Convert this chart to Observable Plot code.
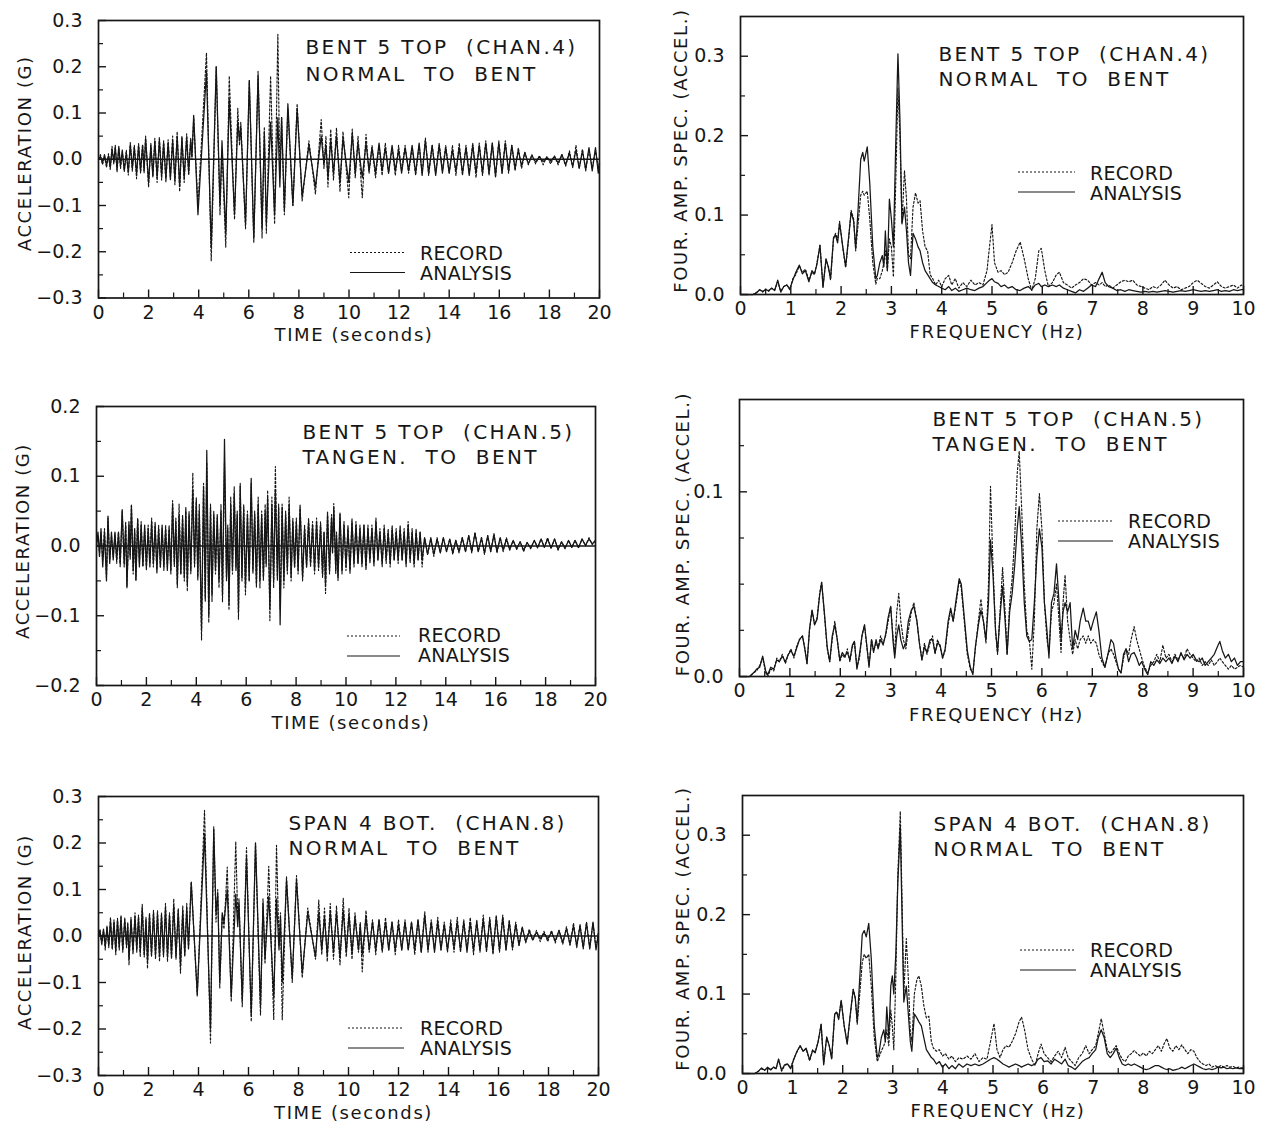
<!DOCTYPE html>
<html><head><meta charset="utf-8">
<script src="https://cdn.jsdelivr.net/npm/d3@7"></script>
<script src="https://cdn.jsdelivr.net/npm/@observablehq/plot@0.6"></script>
<style>
html,body{margin:0;padding:0;background:#fff;}
#page{position:relative;width:1265px;height:1123px;background:#fff;overflow:hidden;}
#page svg{position:absolute;overflow:visible;}
#page svg text{white-space:pre;}
#page g[aria-label="text"] text{letter-spacing:1.6px;}
#page g[aria-label="text"][font-size="20"] text{letter-spacing:2.4px;}
</style></head><body><div id="page"></div>
<script>
// ---------- DATA ----------
// time histories: [time (s), RECORD (g), ANALYSIS (g)] at local extrema
const chan4 = [
[0.00,0.000,0.000],[0.08,0.010,0.006],[0.16,-0.012,-0.008],[0.24,0.006,0.010],[0.32,-0.018,-0.012],[0.40,0.012,0.008],[0.47,-0.022,-0.018],[0.54,0.028,0.022],[0.61,-0.010,-0.006],[0.67,0.030,0.026],[0.74,-0.028,-0.022],[0.81,0.024,0.028],[0.88,-0.020,-0.014],[0.95,0.016,0.020],[1.03,-0.024,-0.026],[1.11,0.020,0.014],[1.19,-0.034,-0.028],[1.27,0.036,0.032],[1.35,-0.026,-0.020],[1.43,0.030,0.026],[1.52,-0.042,-0.032],[1.60,0.034,0.030],[1.68,-0.030,-0.026],[1.76,0.032,0.030],[1.82,-0.030,-0.024],[1.88,0.050,0.045],[2.00,-0.060,-0.050],[2.09,0.035,0.030],[2.17,-0.035,-0.038],[2.25,0.045,0.040],[2.34,-0.050,-0.040],[2.43,0.048,0.042],[2.52,-0.045,-0.036],[2.60,0.040,0.036],[2.69,-0.050,-0.042],[2.78,0.042,0.036],[2.87,-0.040,-0.044],[2.96,0.050,0.040],[3.05,-0.055,-0.046],[3.14,0.060,0.050],[3.24,-0.070,-0.058],[3.33,0.050,0.046],[3.42,-0.050,-0.040],[3.52,0.055,0.048],[3.60,-0.035,-0.030],[3.68,0.045,0.042],[3.73,0.000,0.005],[3.80,0.090,0.095],[3.97,-0.100,-0.120],[4.31,0.230,0.190],[4.50,-0.220,-0.190],[4.70,0.200,0.200],[4.85,-0.120,-0.100],[4.93,0.020,0.040],[5.08,-0.190,-0.160],[5.22,0.180,0.130],[5.43,-0.130,-0.120],[5.56,0.110,0.080],[5.63,0.030,0.040],[5.68,0.080,0.070],[5.87,-0.150,-0.140],[6.02,0.170,0.170],[6.20,-0.180,-0.170],[6.37,0.190,0.180],[6.53,-0.170,-0.150],[6.62,0.070,0.060],[6.70,-0.160,-0.140],[6.87,0.180,0.080],[7.03,-0.140,-0.120],[7.16,0.270,0.090],[7.24,-0.040,-0.060],[7.31,0.090,0.090],[7.42,-0.120,-0.110],[7.56,0.110,0.120],[7.76,-0.100,-0.100],[7.93,0.120,0.110],[8.13,-0.090,-0.080],[8.40,0.040,0.030],[8.66,-0.075,-0.060],[8.89,0.086,0.050],[9.00,-0.020,-0.010],[9.08,0.050,0.030],[9.16,-0.060,-0.040],[9.27,0.065,0.040],[9.38,-0.045,-0.030],[9.50,0.068,0.050],[9.64,-0.070,-0.050],[9.76,0.060,0.045],[9.99,-0.083,-0.050],[10.13,0.065,0.055],[10.25,-0.040,-0.030],[10.36,0.050,0.035],[10.53,-0.083,-0.040],[10.68,0.054,0.035],[10.80,-0.030,-0.025],[10.92,0.030,0.025],[11.06,-0.040,-0.030],[11.20,0.030,0.035],[11.32,-0.035,-0.025],[11.45,0.035,0.025],[11.58,-0.030,-0.030],[11.72,0.025,0.030],[11.85,-0.035,-0.025],[11.98,0.030,0.020],[12.10,-0.025,-0.030],[12.24,0.030,0.025],[12.38,-0.030,-0.025],[12.52,0.025,0.030],[12.66,-0.035,-0.030],[12.80,0.030,0.035],[12.92,-0.030,-0.035],[13.05,0.046,0.040],[13.18,-0.035,-0.030],[13.32,0.030,0.030],[13.46,-0.030,-0.035],[13.60,0.035,0.030],[13.73,-0.025,-0.030],[13.86,0.030,0.025],[14.00,-0.030,-0.030],[14.13,0.030,0.020],[14.27,-0.035,-0.025],[14.40,0.035,0.025],[14.53,-0.035,-0.030],[14.67,0.030,0.025],[14.80,-0.030,-0.035],[14.94,0.035,0.030],[15.07,-0.040,-0.030],[15.20,0.035,0.030],[15.33,-0.035,-0.030],[15.46,0.040,0.035],[15.59,-0.035,-0.030],[15.72,0.035,0.035],[15.85,-0.040,-0.035],[15.98,0.040,0.035],[16.11,-0.030,-0.030],[16.24,0.040,0.035],[16.37,-0.030,-0.025],[16.50,0.030,0.030],[16.63,-0.025,-0.020],[16.76,0.025,0.020],[16.89,-0.020,-0.015],[17.02,0.015,0.015],[17.16,-0.012,-0.010],[17.30,0.010,0.008],[17.45,-0.010,-0.006],[17.60,0.008,0.005],[17.75,-0.012,-0.005],[17.90,0.006,0.004],[18.05,-0.010,-0.004],[18.20,0.008,0.005],[18.35,-0.012,-0.008],[18.50,0.010,0.010],[18.65,-0.015,-0.012],[18.80,0.018,0.014],[18.93,-0.018,-0.016],[19.06,0.030,0.020],[19.19,-0.020,-0.020],[19.32,0.022,0.018],[19.45,-0.025,-0.022],[19.58,0.022,0.025],[19.71,-0.020,-0.025],[19.84,0.020,0.025],[19.95,-0.020,-0.030],[20.00,-0.005,-0.010]
];
const chan5 = [
[0.00,0.000,0.000],[0.06,0.015,0.020],[0.12,-0.010,-0.015],[0.18,0.020,0.025],[0.25,-0.020,-0.030],[0.32,0.025,0.020],[0.40,-0.045,-0.050],[0.46,0.040,0.043],[0.53,-0.020,-0.025],[0.60,0.015,0.020],[0.67,-0.015,-0.020],[0.74,0.020,0.018],[0.81,-0.025,-0.020],[0.88,0.020,0.020],[0.95,-0.030,-0.025],[1.03,0.050,0.052],[1.11,-0.030,-0.025],[1.17,0.035,0.030],[1.22,-0.060,-0.058],[1.30,0.030,0.035],[1.35,-0.020,-0.015],[1.40,0.060,0.058],[1.47,-0.040,-0.035],[1.53,0.020,0.025],[1.58,-0.050,-0.048],[1.65,0.040,0.038],[1.72,-0.025,-0.030],[1.79,0.035,0.030],[1.86,-0.030,-0.028],[1.93,0.025,0.030],[2.00,-0.035,-0.030],[2.07,0.030,0.025],[2.14,-0.025,-0.030],[2.21,0.040,0.035],[2.28,-0.030,-0.025],[2.35,0.035,0.030],[2.42,-0.040,-0.035],[2.49,0.030,0.025],[2.56,-0.030,-0.030],[2.63,0.025,0.030],[2.70,-0.035,-0.030],[2.77,0.030,0.025],[2.84,-0.030,-0.035],[2.91,0.030,0.025],[2.98,-0.040,-0.035],[3.05,0.065,0.060],[3.12,-0.030,-0.025],[3.18,0.040,0.035],[3.24,-0.060,-0.055],[3.31,0.060,0.045],[3.38,-0.040,-0.040],[3.45,0.045,0.040],[3.52,-0.050,-0.045],[3.58,0.050,0.055],[3.64,-0.065,-0.055],[3.71,0.050,0.045],[3.78,-0.040,-0.035],[3.86,0.105,0.080],[3.93,-0.030,-0.025],[4.00,0.070,0.065],[4.06,-0.050,-0.045],[4.12,0.060,0.050],[4.21,-0.135,-0.120],[4.29,0.090,0.085],[4.36,-0.080,-0.075],[4.42,0.120,0.137],[4.50,-0.110,-0.100],[4.57,0.060,0.055],[4.63,-0.080,-0.070],[4.70,0.050,0.045],[4.77,-0.040,-0.035],[4.84,0.040,0.045],[4.91,-0.060,-0.050],[4.99,0.060,0.050],[5.05,-0.080,-0.070],[5.13,0.120,0.153],[5.21,-0.050,-0.045],[5.26,0.030,0.025],[5.31,-0.092,-0.085],[5.38,0.070,0.060],[5.45,-0.040,-0.035],[5.52,0.085,0.075],[5.59,-0.030,-0.035],[5.64,0.050,0.045],[5.69,-0.105,-0.095],[5.76,0.090,0.086],[5.83,-0.050,-0.045],[5.90,0.060,0.055],[5.97,-0.070,-0.060],[6.05,0.050,0.045],[6.12,-0.050,-0.050],[6.20,0.090,0.097],[6.27,-0.040,-0.035],[6.34,0.050,0.045],[6.41,-0.060,-0.055],[6.48,0.070,0.060],[6.55,-0.060,-0.050],[6.62,0.050,0.045],[6.69,-0.050,-0.045],[6.76,0.060,0.050],[6.80,-0.030,-0.025],[6.86,0.080,0.070],[6.95,-0.107,-0.090],[7.03,0.070,0.060],[7.10,-0.060,-0.050],[7.17,0.114,0.080],[7.25,-0.050,-0.045],[7.30,0.060,0.055],[7.36,-0.090,-0.113],[7.44,0.060,0.055],[7.51,-0.060,-0.050],[7.58,0.050,0.045],[7.65,-0.040,-0.035],[7.72,0.070,0.060],[7.80,-0.050,-0.045],[7.87,0.040,0.035],[7.94,-0.030,-0.030],[8.01,0.040,0.035],[8.08,-0.040,-0.035],[8.16,0.060,0.055],[8.26,-0.050,-0.045],[8.34,0.030,0.025],[8.42,-0.030,-0.030],[8.50,0.040,0.035],[8.58,-0.030,-0.025],[8.66,0.035,0.030],[8.74,-0.040,-0.035],[8.82,0.040,0.035],[8.90,-0.035,-0.030],[8.98,0.035,0.030],[9.06,-0.045,-0.040],[9.12,0.020,0.020],[9.18,-0.068,-0.055],[9.26,0.050,0.045],[9.34,-0.040,-0.035],[9.42,0.045,0.040],[9.46,-0.010,-0.010],[9.51,0.061,0.055],[9.59,-0.040,-0.035],[9.62,0.020,0.015],[9.68,-0.050,-0.045],[9.76,0.045,0.047],[9.84,-0.040,-0.035],[9.92,0.035,0.030],[10.00,-0.035,-0.030],[10.08,0.030,0.025],[10.16,-0.040,-0.035],[10.24,0.040,0.035],[10.32,-0.030,-0.025],[10.40,0.035,0.030],[10.48,-0.025,-0.025],[10.56,0.030,0.025],[10.64,-0.030,-0.025],[10.72,0.030,0.030],[10.80,-0.035,-0.030],[10.88,0.030,0.025],[10.96,-0.025,-0.020],[11.04,0.030,0.025],[11.12,-0.030,-0.025],[11.20,0.040,0.035],[11.28,-0.020,-0.020],[11.36,0.025,0.020],[11.45,-0.030,-0.025],[11.53,0.030,0.025],[11.61,-0.025,-0.020],[11.69,0.025,0.020],[11.77,-0.030,-0.025],[11.85,0.030,0.025],[11.93,-0.020,-0.020],[12.01,0.025,0.020],[12.09,-0.025,-0.020],[12.17,0.030,0.025],[12.25,-0.020,-0.020],[12.33,0.025,0.020],[12.41,-0.030,-0.025],[12.49,0.035,0.030],[12.57,-0.025,-0.020],[12.65,0.025,0.020],[12.73,-0.030,-0.025],[12.81,0.025,0.020],[12.89,-0.020,-0.020],[12.97,0.020,0.020],[13.05,-0.030,-0.020],[13.15,0.012,0.012],[13.27,-0.012,-0.012],[13.40,0.010,0.012],[13.52,-0.015,-0.012],[13.65,0.012,0.010],[13.78,-0.010,-0.010],[13.90,0.012,0.012],[14.03,-0.008,-0.008],[14.16,0.010,0.010],[14.28,-0.012,-0.010],[14.40,0.008,0.008],[14.53,-0.010,-0.008],[14.66,0.012,0.012],[14.79,-0.008,-0.008],[14.92,0.015,0.015],[15.04,-0.010,-0.008],[15.17,0.020,0.018],[15.30,-0.008,-0.008],[15.43,0.012,0.012],[15.55,-0.012,-0.010],[15.68,0.015,0.015],[15.80,-0.008,-0.008],[15.93,0.018,0.016],[16.05,-0.010,-0.008],[16.18,0.012,0.012],[16.30,-0.008,-0.006],[16.43,0.012,0.010],[16.56,-0.006,-0.005],[16.70,0.008,0.008],[16.84,-0.005,-0.004],[16.98,0.006,0.006],[17.12,-0.008,-0.006],[17.26,0.005,0.005],[17.40,-0.004,-0.003],[17.55,0.008,0.008],[17.68,-0.003,-0.002],[17.82,0.010,0.010],[17.95,-0.002,-0.002],[18.08,0.012,0.010],[18.22,-0.004,-0.003],[18.36,0.010,0.010],[18.50,-0.006,-0.005],[18.64,0.006,0.006],[18.78,-0.004,-0.003],[18.92,0.008,0.008],[19.05,-0.002,-0.002],[19.18,0.008,0.008],[19.32,-0.003,-0.002],[19.46,0.010,0.010],[19.60,0.000,0.001],[19.74,0.012,0.010],[19.87,0.002,0.003],[20.00,0.008,0.008]
];
const chan8 = [
[0.00,0.000,0.000],[0.06,0.015,0.010],[0.13,-0.020,-0.015],[0.20,0.012,0.015],[0.27,-0.030,-0.022],[0.34,0.022,0.018],[0.41,-0.025,-0.020],[0.48,0.040,0.032],[0.55,-0.030,-0.025],[0.62,0.035,0.030],[0.69,-0.040,-0.032],[0.76,0.038,0.034],[0.83,-0.030,-0.024],[0.90,0.045,0.040],[0.97,-0.035,-0.030],[1.05,0.040,0.035],[1.12,-0.025,-0.020],[1.17,0.030,0.025],[1.22,-0.062,-0.050],[1.30,0.040,0.035],[1.38,-0.040,-0.032],[1.46,0.050,0.042],[1.53,-0.035,-0.030],[1.60,0.045,0.040],[1.67,-0.045,-0.036],[1.75,0.068,0.060],[1.83,-0.045,-0.040],[1.90,0.040,0.035],[1.96,-0.070,-0.055],[2.04,0.050,0.045],[2.12,-0.045,-0.040],[2.20,0.055,0.050],[2.28,-0.050,-0.042],[2.36,0.055,0.048],[2.44,-0.055,-0.045],[2.52,0.050,0.045],[2.60,-0.045,-0.040],[2.68,0.070,0.060],[2.76,-0.055,-0.045],[2.84,0.050,0.045],[2.92,-0.050,-0.045],[3.01,0.080,0.065],[3.10,-0.050,-0.045],[3.19,0.060,0.055],[3.28,-0.080,-0.065],[3.37,0.065,0.055],[3.45,-0.045,-0.040],[3.53,0.070,0.060],[3.60,-0.030,-0.025],[3.71,0.117,0.115],[3.95,-0.130,-0.125],[4.24,0.270,0.220],[4.48,-0.230,-0.200],[4.61,0.235,0.230],[4.70,0.030,0.050],[4.77,0.100,0.090],[4.85,-0.112,-0.100],[4.95,0.045,0.050],[5.02,0.015,0.030],[5.15,0.148,0.100],[5.31,-0.141,-0.130],[5.49,0.203,0.090],[5.57,0.040,0.020],[5.62,0.080,0.070],[5.75,-0.152,-0.140],[5.92,0.190,0.170],[6.11,-0.184,-0.170],[6.28,0.200,0.200],[6.48,-0.170,-0.150],[6.58,0.080,0.070],[6.66,-0.060,-0.050],[6.81,0.150,0.085],[7.01,-0.180,-0.130],[7.12,0.195,0.080],[7.22,-0.020,-0.030],[7.28,0.050,0.040],[7.35,-0.180,-0.100],[7.52,0.128,0.120],[7.75,-0.100,-0.090],[7.92,0.130,0.120],[8.15,-0.090,-0.080],[8.37,0.060,0.050],[8.68,-0.050,-0.045],[8.81,0.077,0.050],[8.93,-0.040,-0.030],[9.04,0.060,0.040],[9.15,-0.055,-0.040],[9.27,0.070,0.050],[9.40,-0.050,-0.035],[9.52,0.065,0.050],[9.66,-0.062,-0.045],[9.79,0.081,0.055],[9.91,-0.045,-0.035],[10.02,0.060,0.045],[10.14,-0.050,-0.035],[10.26,0.050,0.040],[10.40,-0.035,-0.030],[10.47,0.030,0.025],[10.55,-0.077,-0.040],[10.70,0.055,0.040],[10.83,-0.035,-0.030],[10.96,0.035,0.030],[11.09,-0.040,-0.030],[11.22,0.035,0.035],[11.35,-0.035,-0.030],[11.48,0.040,0.030],[11.61,-0.030,-0.030],[11.74,0.030,0.030],[11.87,-0.040,-0.030],[12.00,0.035,0.025],[12.13,-0.030,-0.030],[12.26,0.035,0.030],[12.39,-0.030,-0.030],[12.52,0.030,0.030],[12.65,-0.040,-0.030],[12.78,0.035,0.035],[12.91,-0.035,-0.035],[13.05,0.052,0.045],[13.18,-0.035,-0.030],[13.31,0.035,0.030],[13.44,-0.030,-0.035],[13.57,0.040,0.030],[13.70,-0.030,-0.030],[13.83,0.030,0.025],[13.96,-0.035,-0.030],[14.09,0.035,0.025],[14.22,-0.035,-0.025],[14.35,0.040,0.030],[14.48,-0.035,-0.030],[14.61,0.035,0.030],[14.74,-0.030,-0.035],[14.87,0.040,0.030],[15.00,-0.040,-0.030],[15.13,0.035,0.030],[15.26,-0.035,-0.030],[15.39,0.045,0.035],[15.52,-0.035,-0.030],[15.65,0.040,0.035],[15.78,-0.040,-0.035],[15.91,0.045,0.040],[16.04,-0.035,-0.030],[16.17,0.045,0.040],[16.30,-0.030,-0.030],[16.43,0.035,0.030],[16.56,-0.030,-0.025],[16.69,0.030,0.025],[16.82,-0.020,-0.020],[16.95,0.020,0.018],[17.09,-0.015,-0.012],[17.23,0.015,0.010],[17.37,-0.010,-0.008],[17.52,0.012,0.008],[17.67,-0.012,-0.006],[17.82,0.010,0.006],[17.97,-0.012,-0.006],[18.12,0.012,0.008],[18.27,-0.015,-0.010],[18.42,0.012,0.012],[18.57,-0.018,-0.014],[18.72,0.020,0.016],[18.86,-0.020,-0.018],[19.00,0.028,0.022],[19.13,-0.025,-0.022],[19.26,0.025,0.022],[19.39,-0.028,-0.025],[19.52,0.030,0.028],[19.65,-0.025,-0.028],[19.78,0.028,0.030],[19.90,-0.025,-0.030],[20.00,0.010,0.005]
];
// Fourier amplitude spectra: [frequency (Hz), RECORD, ANALYSIS]
const spec4 = [
[0.00,0.000,0.000],[0.25,0.000,0.000],[0.32,0.003,0.002],[0.38,0.006,0.006],[0.44,0.003,0.004],[0.50,0.007,0.006],[0.56,0.004,0.005],[0.62,0.008,0.008],[0.68,0.006,0.005],[0.74,0.016,0.018],[0.80,0.004,0.003],[0.86,0.010,0.010],[0.92,0.012,0.012],[0.98,0.006,0.007],[1.04,0.020,0.018],[1.10,0.025,0.028],[1.17,0.036,0.037],[1.23,0.028,0.026],[1.29,0.032,0.030],[1.36,0.018,0.016],[1.42,0.028,0.030],[1.47,0.025,0.026],[1.52,0.040,0.038],[1.58,0.062,0.062],[1.64,0.010,0.009],[1.70,0.044,0.045],[1.75,0.035,0.033],[1.79,0.018,0.020],[1.85,0.070,0.072],[1.89,0.077,0.075],[1.93,0.068,0.065],[1.97,0.092,0.090],[2.03,0.060,0.062],[2.09,0.034,0.035],[2.15,0.070,0.072],[2.20,0.106,0.104],[2.25,0.095,0.092],[2.29,0.055,0.058],[2.34,0.090,0.110],[2.39,0.125,0.170],[2.43,0.130,0.179],[2.46,0.125,0.168],[2.52,0.130,0.186],[2.57,0.095,0.140],[2.63,0.040,0.060],[2.69,0.013,0.020],[2.72,0.020,0.024],[2.77,0.020,0.040],[2.82,0.030,0.049],[2.85,0.040,0.035],[2.88,0.055,0.080],[2.92,0.030,0.030],[2.96,0.070,0.120],[3.00,0.060,0.095],[3.04,0.022,0.060],[3.09,0.150,0.200],[3.13,0.260,0.303],[3.17,0.200,0.220],[3.21,0.090,0.089],[3.26,0.156,0.110],[3.30,0.120,0.080],[3.34,0.050,0.040],[3.38,0.045,0.024],[3.43,0.110,0.077],[3.48,0.128,0.070],[3.53,0.115,0.060],[3.57,0.118,0.055],[3.62,0.080,0.040],[3.67,0.060,0.030],[3.72,0.055,0.025],[3.77,0.025,0.020],[3.82,0.020,0.015],[3.88,0.012,0.012],[3.94,0.018,0.010],[4.00,0.010,0.008],[4.07,0.020,0.006],[4.14,0.024,0.010],[4.20,0.012,0.005],[4.27,0.020,0.008],[4.34,0.008,0.004],[4.42,0.015,0.006],[4.50,0.010,0.008],[4.58,0.018,0.006],[4.66,0.012,0.005],[4.74,0.015,0.008],[4.82,0.012,0.010],[4.90,0.030,0.015],[4.95,0.060,0.018],[5.00,0.088,0.020],[5.05,0.040,0.016],[5.12,0.028,0.014],[5.18,0.030,0.010],[5.25,0.025,0.012],[5.32,0.028,0.008],[5.40,0.040,0.010],[5.48,0.055,0.006],[5.56,0.066,0.005],[5.64,0.045,0.008],[5.72,0.020,0.010],[5.79,0.005,0.006],[5.86,0.020,0.012],[5.93,0.055,0.014],[5.98,0.058,0.010],[6.05,0.030,0.012],[6.12,0.010,0.010],[6.20,0.015,0.012],[6.28,0.025,0.010],[6.34,0.028,0.012],[6.42,0.015,0.008],[6.50,0.012,0.006],[6.58,0.008,0.004],[6.66,0.012,0.002],[6.74,0.015,0.006],[6.82,0.020,0.004],[6.90,0.018,0.008],[6.98,0.012,0.012],[7.06,0.015,0.010],[7.13,0.012,0.020],[7.19,0.015,0.028],[7.25,0.010,0.015],[7.32,0.012,0.010],[7.40,0.008,0.008],[7.48,0.012,0.005],[7.56,0.016,0.006],[7.64,0.018,0.004],[7.72,0.016,0.006],[7.80,0.018,0.005],[7.88,0.012,0.004],[7.96,0.010,0.003],[8.04,0.008,0.004],[8.12,0.006,0.003],[8.20,0.010,0.004],[8.28,0.008,0.003],[8.36,0.012,0.004],[8.44,0.018,0.005],[8.52,0.012,0.004],[8.60,0.008,0.003],[8.68,0.010,0.004],[8.76,0.006,0.005],[8.84,0.008,0.004],[8.92,0.010,0.005],[9.00,0.015,0.006],[9.08,0.018,0.005],[9.16,0.014,0.004],[9.24,0.010,0.005],[9.32,0.008,0.004],[9.40,0.012,0.005],[9.48,0.016,0.006],[9.56,0.010,0.004],[9.64,0.008,0.005],[9.72,0.010,0.004],[9.80,0.012,0.006],[9.88,0.008,0.005],[9.96,0.012,0.006],[10.00,0.010,0.006]
];
const spec5 = [
[0.00,0.000,0.000],[0.20,0.000,0.000],[0.28,0.002,0.002],[0.34,0.003,0.004],[0.40,0.006,0.005],[0.46,0.010,0.011],[0.52,0.002,0.003],[0.56,0.000,0.001],[0.62,0.004,0.005],[0.68,0.003,0.004],[0.74,0.010,0.009],[0.79,0.008,0.008],[0.85,0.012,0.011],[0.91,0.007,0.008],[0.97,0.012,0.012],[1.02,0.015,0.014],[1.08,0.010,0.011],[1.13,0.016,0.015],[1.19,0.020,0.020],[1.25,0.022,0.022],[1.30,0.015,0.014],[1.34,0.007,0.007],[1.39,0.025,0.026],[1.44,0.036,0.036],[1.49,0.028,0.028],[1.54,0.032,0.031],[1.59,0.045,0.044],[1.63,0.051,0.051],[1.68,0.035,0.036],[1.74,0.015,0.016],[1.79,0.008,0.008],[1.84,0.020,0.022],[1.89,0.030,0.028],[1.94,0.020,0.020],[1.99,0.008,0.009],[2.04,0.012,0.013],[2.09,0.010,0.011],[2.14,0.015,0.013],[2.19,0.008,0.009],[2.24,0.016,0.017],[2.28,0.019,0.019],[2.33,0.005,0.004],[2.38,0.010,0.012],[2.43,0.022,0.022],[2.48,0.028,0.028],[2.53,0.015,0.016],[2.57,0.006,0.005],[2.62,0.020,0.020],[2.66,0.014,0.013],[2.71,0.018,0.020],[2.75,0.016,0.015],[2.80,0.022,0.020],[2.85,0.018,0.017],[2.90,0.022,0.023],[2.95,0.030,0.032],[3.00,0.038,0.038],[3.05,0.020,0.018],[3.08,0.012,0.010],[3.12,0.035,0.022],[3.16,0.045,0.028],[3.20,0.030,0.020],[3.25,0.020,0.015],[3.30,0.015,0.018],[3.35,0.025,0.030],[3.41,0.035,0.036],[3.46,0.040,0.038],[3.52,0.030,0.030],[3.57,0.018,0.018],[3.62,0.009,0.009],[3.67,0.018,0.016],[3.72,0.012,0.013],[3.78,0.018,0.020],[3.83,0.022,0.020],[3.88,0.012,0.013],[3.93,0.020,0.018],[3.98,0.016,0.017],[4.03,0.010,0.010],[4.08,0.014,0.015],[4.14,0.028,0.030],[4.19,0.036,0.037],[4.24,0.030,0.030],[4.30,0.040,0.042],[4.36,0.052,0.053],[4.40,0.048,0.050],[4.46,0.030,0.032],[4.52,0.012,0.014],[4.58,0.004,0.005],[4.63,0.002,0.001],[4.68,0.015,0.016],[4.74,0.030,0.028],[4.79,0.042,0.036],[4.84,0.030,0.030],[4.89,0.018,0.020],[4.94,0.050,0.040],[4.98,0.103,0.074],[5.03,0.060,0.055],[5.08,0.025,0.025],[5.12,0.012,0.013],[5.17,0.035,0.033],[5.22,0.059,0.049],[5.27,0.035,0.030],[5.31,0.012,0.012],[5.36,0.040,0.035],[5.41,0.053,0.045],[5.46,0.075,0.060],[5.51,0.110,0.080],[5.55,0.122,0.092],[5.60,0.090,0.070],[5.65,0.050,0.040],[5.70,0.025,0.022],[5.75,0.020,0.019],[5.80,0.004,0.020],[5.85,0.030,0.040],[5.90,0.080,0.065],[5.95,0.099,0.080],[6.00,0.080,0.070],[6.05,0.040,0.040],[6.10,0.020,0.025],[6.14,0.013,0.010],[6.19,0.035,0.040],[6.24,0.040,0.045],[6.29,0.050,0.061],[6.34,0.030,0.040],[6.38,0.013,0.020],[6.42,0.040,0.035],[6.46,0.055,0.040],[6.51,0.030,0.035],[6.56,0.020,0.040],[6.61,0.012,0.015],[6.66,0.020,0.025],[6.71,0.015,0.020],[6.76,0.020,0.030],[6.82,0.022,0.037],[6.87,0.018,0.030],[6.92,0.022,0.030],[6.97,0.018,0.025],[7.02,0.020,0.030],[7.08,0.018,0.035],[7.13,0.012,0.025],[7.19,0.008,0.010],[7.25,0.005,0.005],[7.31,0.012,0.012],[7.37,0.015,0.020],[7.42,0.012,0.018],[7.47,0.008,0.010],[7.52,0.004,0.004],[7.57,0.002,0.002],[7.62,0.010,0.012],[7.67,0.015,0.015],[7.72,0.012,0.008],[7.77,0.020,0.012],[7.83,0.027,0.013],[7.88,0.020,0.010],[7.93,0.015,0.006],[7.98,0.010,0.008],[8.04,0.005,0.004],[8.10,0.002,0.001],[8.16,0.006,0.008],[8.22,0.008,0.006],[8.28,0.012,0.009],[8.34,0.008,0.007],[8.40,0.017,0.010],[8.46,0.010,0.008],[8.52,0.012,0.010],[8.58,0.008,0.007],[8.64,0.012,0.011],[8.70,0.009,0.008],[8.76,0.012,0.013],[8.82,0.010,0.009],[8.88,0.015,0.012],[8.94,0.012,0.010],[9.00,0.010,0.012],[9.06,0.008,0.009],[9.12,0.010,0.008],[9.18,0.006,0.010],[9.24,0.008,0.006],[9.30,0.006,0.008],[9.36,0.009,0.010],[9.42,0.006,0.012],[9.48,0.008,0.016],[9.53,0.010,0.019],[9.58,0.008,0.014],[9.64,0.006,0.010],[9.70,0.004,0.012],[9.76,0.006,0.008],[9.82,0.004,0.010],[9.88,0.005,0.006],[9.94,0.006,0.008],[10.00,0.005,0.008]
];
const spec8 = [
[0.00,0.000,0.000],[0.25,0.000,0.000],[0.32,0.003,0.003],[0.38,0.006,0.007],[0.44,0.004,0.004],[0.50,0.007,0.008],[0.56,0.004,0.005],[0.62,0.008,0.008],[0.67,0.006,0.006],[0.72,0.018,0.018],[0.78,0.003,0.004],[0.84,0.010,0.011],[0.90,0.012,0.012],[0.96,0.007,0.006],[1.02,0.018,0.017],[1.08,0.026,0.027],[1.15,0.035,0.035],[1.21,0.028,0.028],[1.27,0.031,0.032],[1.34,0.016,0.017],[1.40,0.030,0.029],[1.45,0.027,0.026],[1.51,0.040,0.040],[1.57,0.062,0.062],[1.62,0.012,0.011],[1.68,0.045,0.046],[1.73,0.036,0.035],[1.78,0.018,0.019],[1.84,0.074,0.075],[1.88,0.078,0.077],[1.92,0.070,0.068],[1.97,0.092,0.092],[2.03,0.060,0.060],[2.09,0.038,0.037],[2.15,0.072,0.074],[2.21,0.106,0.106],[2.25,0.096,0.095],[2.29,0.062,0.065],[2.34,0.100,0.120],[2.39,0.140,0.175],[2.43,0.150,0.180],[2.47,0.145,0.172],[2.52,0.150,0.189],[2.57,0.110,0.145],[2.63,0.045,0.060],[2.69,0.015,0.020],[2.72,0.020,0.024],[2.77,0.028,0.045],[2.82,0.035,0.055],[2.85,0.040,0.040],[2.88,0.055,0.084],[2.92,0.035,0.045],[2.96,0.080,0.110],[2.99,0.060,0.123],[3.02,0.030,0.100],[3.06,0.120,0.150],[3.10,0.250,0.240],[3.15,0.330,0.310],[3.19,0.200,0.180],[3.22,0.100,0.090],[3.27,0.170,0.110],[3.31,0.120,0.075],[3.35,0.050,0.040],[3.38,0.040,0.028],[3.43,0.100,0.075],[3.48,0.118,0.070],[3.52,0.123,0.065],[3.57,0.110,0.060],[3.62,0.085,0.045],[3.67,0.070,0.030],[3.72,0.072,0.025],[3.77,0.040,0.020],[3.81,0.032,0.018],[3.87,0.028,0.012],[3.93,0.030,0.015],[3.99,0.022,0.008],[4.05,0.025,0.012],[4.12,0.018,0.006],[4.18,0.022,0.010],[4.25,0.015,0.006],[4.32,0.020,0.012],[4.40,0.018,0.008],[4.48,0.022,0.012],[4.56,0.018,0.010],[4.64,0.025,0.012],[4.72,0.015,0.010],[4.80,0.020,0.012],[4.88,0.018,0.015],[4.95,0.040,0.018],[5.02,0.063,0.020],[5.08,0.030,0.018],[5.14,0.020,0.015],[5.20,0.030,0.012],[5.26,0.035,0.010],[5.32,0.033,0.008],[5.38,0.040,0.010],[5.45,0.050,0.012],[5.52,0.065,0.010],[5.57,0.071,0.008],[5.63,0.055,0.010],[5.70,0.030,0.012],[5.77,0.018,0.010],[5.84,0.010,0.012],[5.90,0.025,0.018],[5.96,0.037,0.020],[6.02,0.025,0.015],[6.09,0.020,0.016],[6.16,0.015,0.012],[6.23,0.022,0.018],[6.30,0.028,0.015],[6.37,0.020,0.012],[6.44,0.033,0.018],[6.50,0.020,0.010],[6.57,0.015,0.008],[6.64,0.010,0.005],[6.71,0.020,0.010],[6.78,0.025,0.015],[6.85,0.035,0.018],[6.92,0.025,0.020],[6.98,0.030,0.025],[7.05,0.035,0.030],[7.10,0.050,0.045],[7.16,0.069,0.055],[7.22,0.050,0.045],[7.28,0.030,0.025],[7.34,0.025,0.020],[7.40,0.030,0.025],[7.46,0.035,0.032],[7.52,0.025,0.020],[7.58,0.018,0.012],[7.64,0.015,0.010],[7.70,0.022,0.012],[7.76,0.025,0.010],[7.82,0.029,0.012],[7.88,0.025,0.010],[7.94,0.022,0.008],[8.00,0.026,0.006],[8.06,0.022,0.005],[8.12,0.028,0.006],[8.18,0.025,0.008],[8.24,0.030,0.010],[8.30,0.035,0.010],[8.36,0.028,0.008],[8.42,0.038,0.006],[8.47,0.044,0.005],[8.53,0.032,0.006],[8.59,0.028,0.004],[8.65,0.035,0.005],[8.71,0.030,0.006],[8.77,0.036,0.008],[8.83,0.030,0.006],[8.89,0.025,0.008],[8.95,0.030,0.010],[9.01,0.028,0.012],[9.07,0.020,0.010],[9.13,0.015,0.008],[9.19,0.012,0.006],[9.25,0.010,0.005],[9.31,0.012,0.006],[9.37,0.008,0.005],[9.43,0.010,0.006],[9.49,0.008,0.008],[9.55,0.010,0.007],[9.61,0.008,0.008],[9.67,0.010,0.006],[9.73,0.008,0.007],[9.79,0.009,0.006],[9.85,0.007,0.007],[9.91,0.008,0.006],[9.97,0.007,0.006],[10.00,0.007,0.006]
];
// tick values and labels
const timeMajor = [0,2,4,6,8,10,12,14,16,18,20];
const timeMinor = [1,3,5,7,9,11,13,15,17,19];
const freqMajor = [0,1,2,3,4,5,6,7,8,9,10];
const freqMinor = [0.5,1.5,2.5,3.5,4.5,5.5,6.5,7.5,8.5,9.5];
const acc3Major = [-0.3,-0.2,-0.1,0,0.1,0.2,0.3];
const acc3Minor = [-0.25,-0.15,-0.05,0.05,0.15,0.25];
const acc2Major = [-0.2,-0.1,0,0.1,0.2];
const acc2Minor = [-0.15,-0.05,0.05,0.15];
const fasMajor = [0,0.1,0.2,0.3];
const fasMinor = [0.05,0.15,0.25];
const fas5Major = [0,0.1];
const fas5Minor = [0.025,0.05,0.075,0.125];
const legendLabels = ["RECORD","ANALYSIS"];
const titles = {
  c4: ["BENT 5 TOP  (CHAN.4)", "NORMAL  TO  BENT"],
  c5: ["BENT 5 TOP  (CHAN.5)", "TANGEN.  TO  BENT"],
  c8: ["SPAN 4 BOT.  (CHAN.8)", "NORMAL  TO  BENT"]
};
const timeLabel = "TIME (seconds)";
const freqLabel = "FREQUENCY (Hz)";
const accLabel = "ACCELERATION (G)";
const fasLabel = "FOUR. AMP. SPEC. (ACCEL.)";

// ---------- DRAWING ----------
const FONT = "'DejaVu Sans', 'Liberation Sans', sans-serif";
const INK = "#161616";
const fmt1 = d3.format(".1f");

function legendMark(L) {
  return (index, scales, values, dims) => {
    const g = d3.create("svg:g").attr("font-family", FONT).attr("font-size", 19).attr("fill", INK).attr("text-anchor", "start");
    const ox = dims.marginLeft, oy = dims.marginTop;
    legendLabels.forEach((lab, i) => {
      const yy = oy + L.ly + i * 20;
      g.append("line").attr("x1", ox + L.lx1).attr("x2", ox + L.lx2).attr("y1", yy).attr("y2", yy)
        .attr("stroke", INK).attr("stroke-width", 1.2).attr("stroke-dasharray", i === 0 ? "2,2" : null);
      g.append("text").attr("x", ox + L.tx).attr("y", oy + L.tb + i * 20).attr("text-anchor", "start").attr("letter-spacing", "0.3px").text(lab);
    });
    return g.node();
  };
}

function drawPanel(p) {
  const mL = 95, mR = 20, mT = 14, mB = 62;
  const W = p.fr - p.fl, H = p.fb - p.ft;
  const marks = [
    p.zero ? Plot.ruleY([0], {stroke: INK, strokeWidth: 1.3}) : null,
    Plot.line(p.data, {x: d => d[0], y: d => d[1], stroke: INK, strokeWidth: 1.15, strokeDasharray: "2,2"}),
    Plot.line(p.data, {x: d => d[0], y: d => d[2], stroke: INK, strokeWidth: 1.25}),
    Plot.frame({stroke: INK, strokeWidth: 1.7}),
    Plot.axisX(p.xMajor, {tickSize: -8, fill: "none", stroke: INK, strokeWidth: 1.4, label: null}),
    Plot.axisX(p.xMinor, {tickSize: -5, fill: "none", stroke: INK, strokeWidth: 1.2, label: null}),
    Plot.axisY(p.yMajor, {tickSize: -8, fill: "none", stroke: INK, strokeWidth: 1.4, label: null}),
    Plot.axisY(p.yMinor, {tickSize: -5, fill: "none", stroke: INK, strokeWidth: 1.2, label: null}),
    Plot.axisX(p.xMajor, {tickSize: 0, tickPadding: 7, tickFormat: d => String(d), fontSize: 19, fill: INK, label: null}),
    Plot.axisY(p.yMajor, {tickSize: 0, tickPadding: 16, tickFormat: fmt1, fontSize: 19, fill: INK, label: null}),
    Plot.text([p.title[0]], {text: d => d, frameAnchor: "top-left", textAnchor: "start", lineAnchor: "bottom", dx: p.tdx, dy: p.tb1, fontSize: 20, fill: INK}),
    Plot.text([p.title[1]], {text: d => d, frameAnchor: "top-left", textAnchor: "start", lineAnchor: "bottom", dx: p.tdx, dy: p.tb2, fontSize: 20, fill: INK}),
    Plot.text([p.xLabel], {text: d => d, frameAnchor: "bottom", lineAnchor: "bottom", dx: 5, dy: p.xlb, fontSize: 18, fill: INK}),
    Plot.text([p.yLabel], {text: d => d, frameAnchor: "left", rotate: -90, lineAnchor: "bottom", textAnchor: "middle", dx: p.ylx, dy: p.yly, fontSize: 18, fill: INK}),
    legendMark(p.leg)
  ];
  const svg = Plot.plot({
    width: W + mL + mR, height: H + mT + mB,
    marginLeft: mL, marginRight: mR, marginTop: mT, marginBottom: mB,
    x: {domain: p.xDomain}, y: {domain: p.yDomain},
    style: {fontFamily: FONT, color: INK, background: "transparent", overflow: "visible"},
    marks
  });
  svg.style.left = (p.fl - mL) + "px";
  svg.style.top = (p.ft - mT) + "px";
  document.getElementById("page").appendChild(svg);
}

const left = {xDomain: [0, 20], xMajor: timeMajor, xMinor: timeMinor, xLabel: timeLabel, yLabel: accLabel, zero: true};
const right = {xDomain: [0, 10], xMajor: freqMajor, xMinor: freqMinor, xLabel: freqLabel, yLabel: fasLabel, zero: false};

drawPanel({...left, data: chan4, yDomain: [-0.3, 0.3], yMajor: acc3Major, yMinor: acc3Minor,
  fl: 98, fr: 599, ft: 19.5, fb: 297, title: titles.c4, tdx: 207, tb1: 33.5, tb2: 60.5,
  xlb: 43, ylx: -68, yly: -6, leg: {lx1: 252, lx2: 307, ly: 232.5, tx: 322, tb: 239.5}});
drawPanel({...left, data: chan5, yDomain: [-0.2, 0.2], yMajor: acc2Major, yMinor: acc2Minor,
  fl: 96, fr: 595, ft: 406, fb: 685, title: titles.c5, tdx: 206, tb1: 32, tb2: 57,
  xlb: 43, ylx: -68, yly: -5, leg: {lx1: 251, lx2: 304, ly: 230, tx: 322, tb: 236}});
drawPanel({...left, data: chan8, yDomain: [-0.3, 0.3], yMajor: acc3Major, yMinor: acc3Minor,
  fl: 98, fr: 598, ft: 796, fb: 1075, title: titles.c8, tdx: 190, tb1: 33, tb2: 58,
  xlb: 43, ylx: -68, yly: -4, leg: {lx1: 250, lx2: 306, ly: 232, tx: 322, tb: 239}});
drawPanel({...right, data: spec4, yDomain: [0, 0.35], yMajor: fasMajor, yMinor: fasMinor,
  fl: 740, fr: 1243, ft: 16, fb: 294, title: titles.c4, tdx: 198, tb1: 44, tb2: 69,
  xlb: 43, ylx: -54, yly: -5, leg: {lx1: 278, lx2: 335, ly: 156, tx: 350, tb: 164}});
drawPanel({...right, data: spec5, yDomain: [0, 0.15], yMajor: fas5Major, yMinor: fas5Minor,
  fl: 739, fr: 1243, ft: 399, fb: 676, title: titles.c5, tdx: 193, tb1: 26, tb2: 51,
  xlb: 44, ylx: -51, yly: -4, leg: {lx1: 319, lx2: 374, ly: 122, tx: 389, tb: 129}});
drawPanel({...right, data: spec8, yDomain: [0, 0.35], yMajor: fasMajor, yMinor: fasMinor,
  fl: 742, fr: 1243, ft: 795, fb: 1073, title: titles.c8, tdx: 191, tb1: 35, tb2: 60,
  xlb: 43, ylx: -54, yly: -6, leg: {lx1: 278, lx2: 334, ly: 155, tx: 348, tb: 162}});
</script></body></html>
